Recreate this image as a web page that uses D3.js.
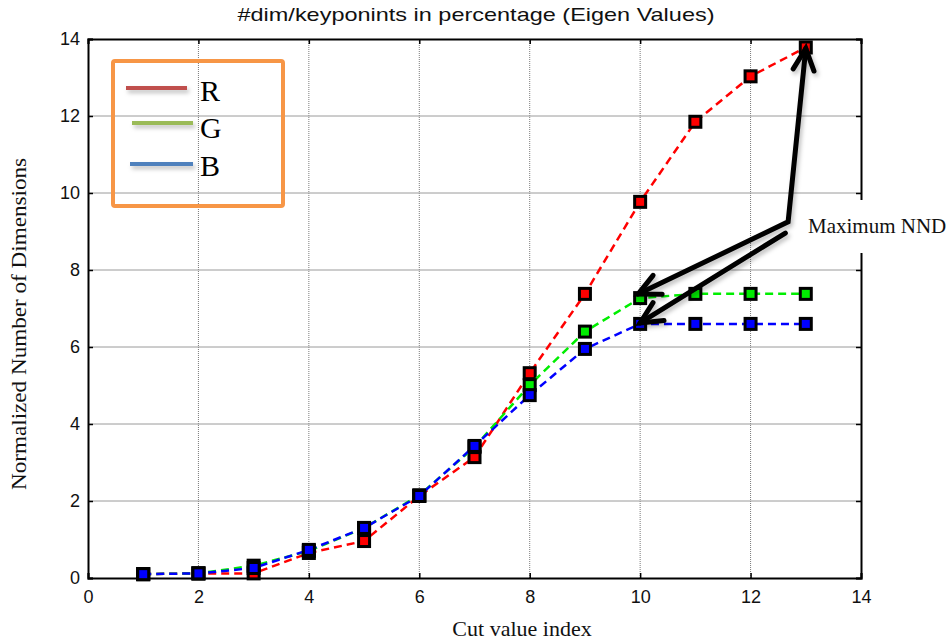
<!DOCTYPE html>
<html>
<head>
<meta charset="utf-8">
<script src="https://cdn.jsdelivr.net/npm/d3@7"></script>
<style>
	body { margin: 0; background: #fff; }
</style>
</head>
<body>
<div id="chart"></div>
<script>

// data
var cutIndex = [1, 2, 3, 4, 5, 6, 7, 8, 9, 10, 11, 12, 13];
var valuesR = [0.10, 0.12, 0.12, 0.65, 0.96, 2.13, 3.14, 5.32, 7.38, 9.77, 11.85, 13.03, 13.78];
var valuesG = [0.10, 0.12, 0.32, 0.70, 1.30, 2.15, 3.40, 5.01, 6.40, 7.27, 7.38, 7.38, 7.38];
var valuesB = [0.10, 0.12, 0.26, 0.73, 1.30, 2.13, 3.43, 4.75, 5.95, 6.60, 6.60, 6.60, 6.60];
var seriesNames = ["R", "G", "B"];
var xTicks = [0, 2, 4, 6, 8, 10, 12, 14];
var yTicks = [0, 2, 4, 6, 8, 10, 12, 14];

function drawChart () {

	var width = 950, height = 641;
	var left = 88, right = 861, top = 39, bottom = 578;

	var x = d3.scaleLinear().domain([0, 14]).range([left, right]);
	var y = d3.scaleLinear().domain([0, 14]).range([bottom, top]);

	var svg = d3.select("#chart")
		.append("svg")
			.attr("width", width)
			.attr("height", height);

	// drop shadow for arrows and legend lines
	var filter = svg.append("defs").append("filter")
			.attr("id", "shadow")
			.attr("filterUnits", "userSpaceOnUse")
			.attr("x", 0).attr("y", 0)
			.attr("width", width).attr("height", height);
	filter.append("feDropShadow")
			.attr("dx", 2).attr("dy", 3)
			.attr("stdDeviation", 2)
			.attr("flood-color", "#000")
			.attr("flood-opacity", 0.25);

	// grid
	svg.append("g").selectAll("line")
		.data(xTicks.slice(1, -1))
		.enter().append("line")
			.attr("x1", d => x(d)).attr("x2", d => x(d))
			.attr("y1", top).attr("y2", bottom)
			.attr("stroke", "#7a7a7a")
			.attr("stroke-width", 1)
			.attr("stroke-dasharray", "1,1");

	svg.append("g").selectAll("line")
		.data(yTicks.slice(1, -1))
		.enter().append("line")
			.attr("x1", left).attr("x2", right)
			.attr("y1", d => y(d)).attr("y2", d => y(d))
			.attr("stroke", "#9a9a9a")
			.attr("stroke-width", 1);

	// axes, ticks pointing inward on all four sides
	var axisFont = "Liberation Sans, Arial, sans-serif";
	var serif = "Liberation Serif, Times New Roman, serif";

	svg.append("g")
			.attr("transform", "translate(0," + bottom + ")")
			.call(d3.axisBottom(x).tickValues(xTicks).tickSize(-5).tickPadding(12))
			.call(g => g.selectAll("text").attr("font-size", 18).attr("font-family", axisFont).attr("fill", "#111"));

	svg.append("g")
			.attr("transform", "translate(" + left + ",0)")
			.call(d3.axisLeft(y).tickValues(yTicks).tickSize(-5).tickPadding(8))
			.call(g => g.selectAll("text").attr("font-size", 18).attr("font-family", axisFont).attr("fill", "#111"));

	svg.append("g")
			.attr("transform", "translate(0," + top + ")")
			.call(d3.axisTop(x).tickValues(xTicks).tickSize(-5).tickFormat(""));

	svg.append("g")
			.attr("transform", "translate(" + right + ",0)")
			.call(d3.axisRight(y).tickValues(yTicks).tickSize(-5).tickFormat(""));

	svg.selectAll(".domain").attr("stroke", "#000").attr("stroke-width", 2);
	svg.selectAll(".tick line").attr("stroke", "#000").attr("stroke-width", 1.5);

	// series
	var series = [
		{ name: seriesNames[0], values: valuesR, color: "#ff0000" },
		{ name: seriesNames[1], values: valuesG, color: "#00ee00" },
		{ name: seriesNames[2], values: valuesB, color: "#0000ff" }
	];

	var line = d3.line()
		.x((d, i) => x(cutIndex[i]))
		.y(d => y(d));

	series.forEach(function (s) {
		var g = svg.append("g");
		g.append("path")
				.attr("d", line(s.values))
				.attr("fill", "none")
				.attr("stroke", s.color)
				.attr("stroke-width", 2.5)
				.attr("stroke-dasharray", "8,5");
		g.selectAll("rect")
			.data(s.values)
			.enter().append("rect")
				.attr("x", (d, i) => x(cutIndex[i]) - 5.5)
				.attr("y", d => y(d) - 5.5)
				.attr("width", 11)
				.attr("height", 11)
				.attr("fill", s.color)
				.attr("stroke", "#000")
				.attr("stroke-width", 3);
	});

	// legend
	var legendColors = ["#c0504d", "#9bbb59", "#4f81bd"];
	var legend = svg.append("g");
	legend.append("rect")
			.attr("x", 113).attr("y", 61)
			.attr("width", 170).attr("height", 145)
			.attr("rx", 2)
			.attr("fill", "none")
			.attr("stroke", "#f79646")
			.attr("stroke-width", 4);

	var legendRows = [
		{ x1: 126, x2: 187, y: 88, ty: 101 },
		{ x1: 132, x2: 193, y: 123, ty: 138 },
		{ x1: 130, x2: 193, y: 164, ty: 176 }
	];
	legendRows.forEach(function (r, i) {
		legend.append("rect")
				.attr("x", r.x1).attr("y", r.y - 2)
				.attr("width", r.x2 - r.x1).attr("height", 4)
				.attr("fill", legendColors[i])
				.attr("filter", "url(#shadow)");
		legend.append("text")
				.attr("x", 200).attr("y", r.ty)
				.attr("font-family", serif)
				.attr("font-size", 30)
				.attr("fill", "#000")
				.text(seriesNames[i]);
	});

	// white box behind the annotation text
	svg.append("rect")
			.attr("x", 803).attr("y", 200)
			.attr("width", 147).attr("height", 53)
			.attr("fill", "#fff");

	// annotation arrows to the maximum points
	var vertex = [x(12.68), y(9.25)];
	var start2 = [x(12.63), y(8.96)];
	var tipR = [x(cutIndex[12]), y(valuesR[12]) + 1];
	var tipG = [x(cutIndex[9]) - 2, y(valuesG[9]) - 4];
	var tipB = [x(cutIndex[9]), y(valuesB[9]) - 1];

	var arrows = svg.append("g").attr("filter", "url(#shadow)");

	function arrowHead (from, tip) {
		var a = Math.atan2(tip[1] - from[1], tip[0] - from[0]);
		var len = 24, spread = 0.45;
		var p1 = [tip[0] - len * Math.cos(a - spread), tip[1] - len * Math.sin(a - spread)];
		var p2 = [tip[0] - len * Math.cos(a + spread), tip[1] - len * Math.sin(a + spread)];
		return "M" + p1 + "L" + tip + "L" + p2;
	}

	var arrowPaths = [
		"M" + tipR + "L" + vertex + "L" + tipG,
		"M" + start2 + "L" + tipB,
		arrowHead(vertex, tipR),
		arrowHead(vertex, tipG),
		arrowHead(start2, tipB)
	];
	arrows.selectAll("path")
		.data(arrowPaths)
		.enter().append("path")
			.attr("d", d => d)
			.attr("fill", "none")
			.attr("stroke", "#000")
			.attr("stroke-width", 5)
			.attr("stroke-linejoin", "miter")
			.attr("stroke-linecap", "round");

	svg.append("text")
			.attr("x", 808).attr("y", 233)
			.attr("font-family", serif)
			.attr("font-size", 21)
			.attr("fill", "#111")
			.text("Maximum NND");

	// titles
	svg.append("text")
			.attr("x", 476).attr("y", 21)
			.attr("text-anchor", "middle")
			.attr("font-family", axisFont)
			.attr("font-size", 19)
			.attr("textLength", 477)
			.attr("lengthAdjust", "spacingAndGlyphs")
			.attr("fill", "#111")
			.text("#dim/keyponints in percentage (Eigen Values)");

	svg.append("text")
			.attr("x", 522).attr("y", 636)
			.attr("text-anchor", "middle")
			.attr("font-family", serif)
			.attr("font-size", 22)
			.attr("fill", "#111")
			.text("Cut value index");

	svg.append("text")
			.attr("transform", "translate(26,324) rotate(-90)")
			.attr("text-anchor", "middle")
			.attr("font-family", serif)
			.attr("font-size", 22)
			.attr("textLength", 332)
			.attr("lengthAdjust", "spacingAndGlyphs")
			.attr("fill", "#111")
			.text("Normalized Number of Dimensions");
}

drawChart();
</script>
</body>
</html>
